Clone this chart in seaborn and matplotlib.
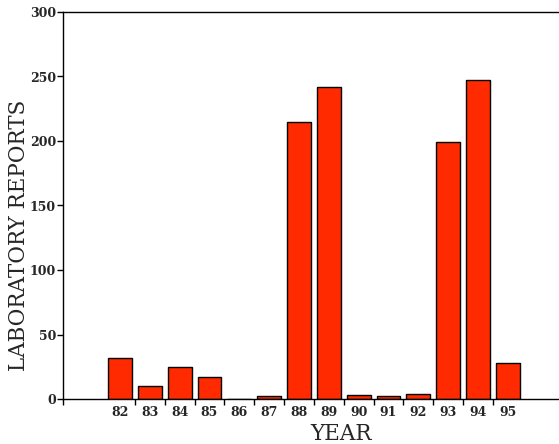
import matplotlib
matplotlib.use("Agg")
import matplotlib.pyplot as plt
import seaborn as sns
import pandas as pd
from matplotlib.ticker import FixedLocator

years = ["82", "83", "84", "85", "86", "87", "88", "89", "90", "91", "92", "93", "94", "95"]
reports = [32, 10, 25, 17, 0, 2, 215, 242, 3, 2, 4, 199, 247, 28]
yticks = [0, 50, 100, 150, 200, 250, 300]

sns.set_theme(style="white")
plt.rcParams['font.family'] = ['DejaVu Serif']

df = pd.DataFrame({"year": years, "reports": reports})

fig = plt.figure(figsize=(5.59, 4.44), dpi=100)
ax = fig.add_axes([63/559, 45/444, (559-63)/559, 387/444])

sns.barplot(data=df, x="year", y="reports", order=years, color="#ff2a00",
            saturation=1, width=0.8, edgecolor="black", linewidth=1, ax=ax)

ax.set_xlim(-1.906, 14.71)
ax.set_ylim(0, 300)
ax.set_yticks(yticks)
ax.tick_params(axis="y", direction="out", length=4, width=1, color="black",
               labelsize=9, pad=1, left=True)
for t in ax.get_yticklabels():
    t.set_fontweight("bold")
ax.tick_params(axis="x", which="major", length=0, labelsize=9, pad=5)
for t in ax.get_xticklabels():
    t.set_fontweight("bold")
ax.xaxis.set_minor_locator(FixedLocator([-1.906] + [i + 0.5 for i in range(13)]))
ax.tick_params(axis="x", which="minor", direction="out", length=4, width=1,
               color="black", bottom=True)

for s in ["left", "bottom", "top"]:
    ax.spines[s].set_visible(True)
    ax.spines[s].set_color("black")
    ax.spines[s].set_linewidth(1)
ax.spines["right"].set_visible(False)

ax.set_xlabel("YEAR", fontsize=15.5, fontfamily="DejaVu Serif")
ax.set_ylabel("LABORATORY REPORTS", fontsize=15.5, fontfamily="DejaVu Serif")
ax.xaxis.set_label_coords((341-63)/496, -24/387)
ax.yaxis.set_label_coords(-33/496, (399-235)/387)

fig.savefig("out.png", dpi=100)
